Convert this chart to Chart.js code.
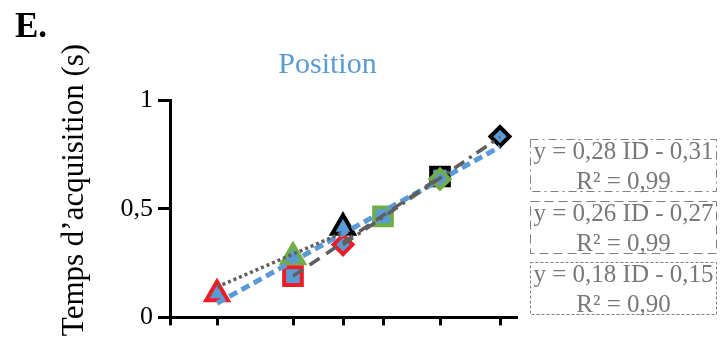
<!DOCTYPE html>
<html><head><meta charset="utf-8">
<script src="https://cdn.jsdelivr.net/npm/chart.js@4/dist/chart.umd.min.js"></script>
<style>html,body{margin:0;padding:0;background:#fff;}#wrap{position:relative;width:725px;height:338px;}</style>
</head><body><div id="wrap"><canvas id="c" width="725" height="338"></canvas></div>
<script>
// x positions (index of difficulty, unlabeled ticks)
const idTicks = [1.47, 2.23, 2.73, 3.13, 3.70, 4.30];
const xMin = 1.0, xMax = 4.47;
// y axis
const yTicks = [0, 0.5, 1];
const yTickLabels = ['0', '0,5', '1'];
// markers: shape per point (triangle, square, diamond)
const shapes = ['triangle', 'rect', 'rectRot'];
const redX = [1.47, 2.23, 2.73];
const redY = [0.108, 0.19, 0.335];
const greenX = [2.23, 3.13, 3.70];
const greenY = [0.278, 0.465, 0.636];
const blackX = [2.73, 3.70, 4.30];
const blackY = [0.414, 0.648, 0.832];
// trend lines (end points)
const trendTriX = [1.47, 2.73];
const trendTriY = [0.14, 0.39];
const trendSqX = [2.23, 3.70];
const trendSqY = [0.19, 0.645];
const trendDiaX = [2.73, 4.30];
const trendDiaY = [0.335, 0.83];
const trendAllX = [1.47, 4.30];
const trendAllY = [0.065, 0.785];
// texts
const panelLabel = 'E.';
const chartTitle = 'Position';
const yTitle = 'Temps d\u2019acquisition (s)';
const equations = [
  ['y = 0,28 ID - 0,31', 'R\u00b2 = 0,99'],
  ['y = 0,26 ID - 0,27', 'R\u00b2 = 0,99'],
  ['y = 0,18 ID - 0,15', 'R\u00b2 = 0,90']
];

const BLUE = '#5b9bd5', RED = '#ee1c25', GREEN = '#70ad47', BLACK = '#000000', GRAY = '#5f5f5f';
const radiusByShape = {triangle: 12.5, rect: 12.5, rectRot: 9.5};
const serif = '"Liberation Serif", "Times New Roman", serif';

function pts(xs, ys) { return xs.map((x, i) => ({x: x, y: ys[i]})); }
function markerSet(xs, ys, color, order) {
  return {
    data: pts(xs, ys), order: order, showLine: false,
    pointStyle: shapes, pointRadius: shapes.map(s => radiusByShape[s]),
    pointHoverRadius: shapes.map(s => radiusByShape[s]),
    pointBackgroundColor: BLUE, pointBorderColor: color, pointBorderWidth: 4,
    pointHoverBorderWidth: 4, clip: false
  };
}
function trendSet(xs, ys, color, width, dash, order) {
  return {
    data: pts(xs, ys), order: order, showLine: true, pointRadius: 0, pointHoverRadius: 0,
    borderColor: color, borderWidth: width, borderDash: dash, borderCapStyle: 'butt',
    fill: false, clip: false
  };
}

const overlay = {
  id: 'overlay',
  afterDraw(chart) {
    const ctx = chart.ctx;
    ctx.save();
    ctx.fillStyle = '#000';
    ctx.textAlign = 'left'; ctx.textBaseline = 'alphabetic';
    ctx.font = 'bold 35px ' + serif;
    ctx.fillText(panelLabel, 15, 37);
    ctx.fillStyle = BLUE; ctx.textAlign = 'center';
    ctx.font = '30px ' + serif;
    ctx.fillText(chartTitle, 327.5, 73);
    ctx.save();
    ctx.translate(83, 190); ctx.rotate(-Math.PI / 2);
    ctx.fillStyle = '#000'; ctx.font = '31px ' + serif; ctx.textAlign = 'center';
    ctx.fillText(yTitle, 0, 0);
    ctx.restore();
    const tops = [139, 201, 262];
    const dashes = [[8, 4, 2, 4], [9, 5], [3, 2]];
    for (let i = 0; i < equations.length; i++) {
      const t = tops[i];
      ctx.setLineDash(dashes[i]);
      ctx.strokeStyle = '#7f7f7f'; ctx.lineWidth = 1;
      ctx.strokeRect(530.5, t + 0.5, 186, 52);
      ctx.setLineDash([]);
      ctx.fillStyle = '#787878'; ctx.font = '25px ' + serif; ctx.textAlign = 'center';
      ctx.fillText(equations[i][0], 623.5, t + 20);
      ctx.fillText(equations[i][1], 623.5, t + 50);
    }
    ctx.restore();
  }
};

new Chart(document.getElementById('c'), {
  type: 'scatter',
  data: {
    datasets: [
      trendSet(trendTriX, trendTriY, GRAY, 3.5, [3, 3], 0),
      trendSet(trendSqX, trendSqY, GRAY, 3.5, [12, 8], 1),
      trendSet(trendDiaX, trendDiaY, GRAY, 3.5, [12, 6, 3, 6], 2),
      trendSet(trendAllX, trendAllY, BLUE, 5, [9, 5], 3),
      markerSet(redX, redY, RED, 4),
      markerSet(greenX, greenY, GREEN, 5),
      markerSet(blackX, blackY, BLACK, 6)
    ]
  },
  options: {
    responsive: false, animation: false, devicePixelRatio: 1,
    layout: {padding: {left: 0, top: 100, right: 208, bottom: 0}},
    plugins: {legend: {display: false}, tooltip: {enabled: false}, title: {display: false}},
    events: [],
    scales: {
      x: {
        type: 'linear', min: xMin, max: xMax,
        afterFit: s => { s.height = 20; },
        afterBuildTicks: s => { s.ticks = [xMin].concat(idTicks).map(v => ({value: v})); },
        ticks: {display: false},
        grid: {drawOnChartArea: false, drawTicks: true, tickLength: 8, tickWidth: 3, tickColor: '#000'},
        border: {display: true, color: '#000', width: 3}
      },
      y: {
        type: 'linear', min: 0, max: 1,
        afterFit: s => { s.width = 170; },
        afterBuildTicks: s => { s.ticks = yTicks.map(v => ({value: v})); },
        ticks: {
          callback: (v, i) => yTickLabels[i],
          font: {family: serif, size: 26}, color: '#000', padding: 5
        },
        grid: {drawOnChartArea: false, drawTicks: true, tickLength: 12, tickWidth: 3, tickColor: '#000'},
        border: {display: true, color: '#000', width: 3}
      }
    }
  },
  plugins: [overlay]
});
</script></body></html>
